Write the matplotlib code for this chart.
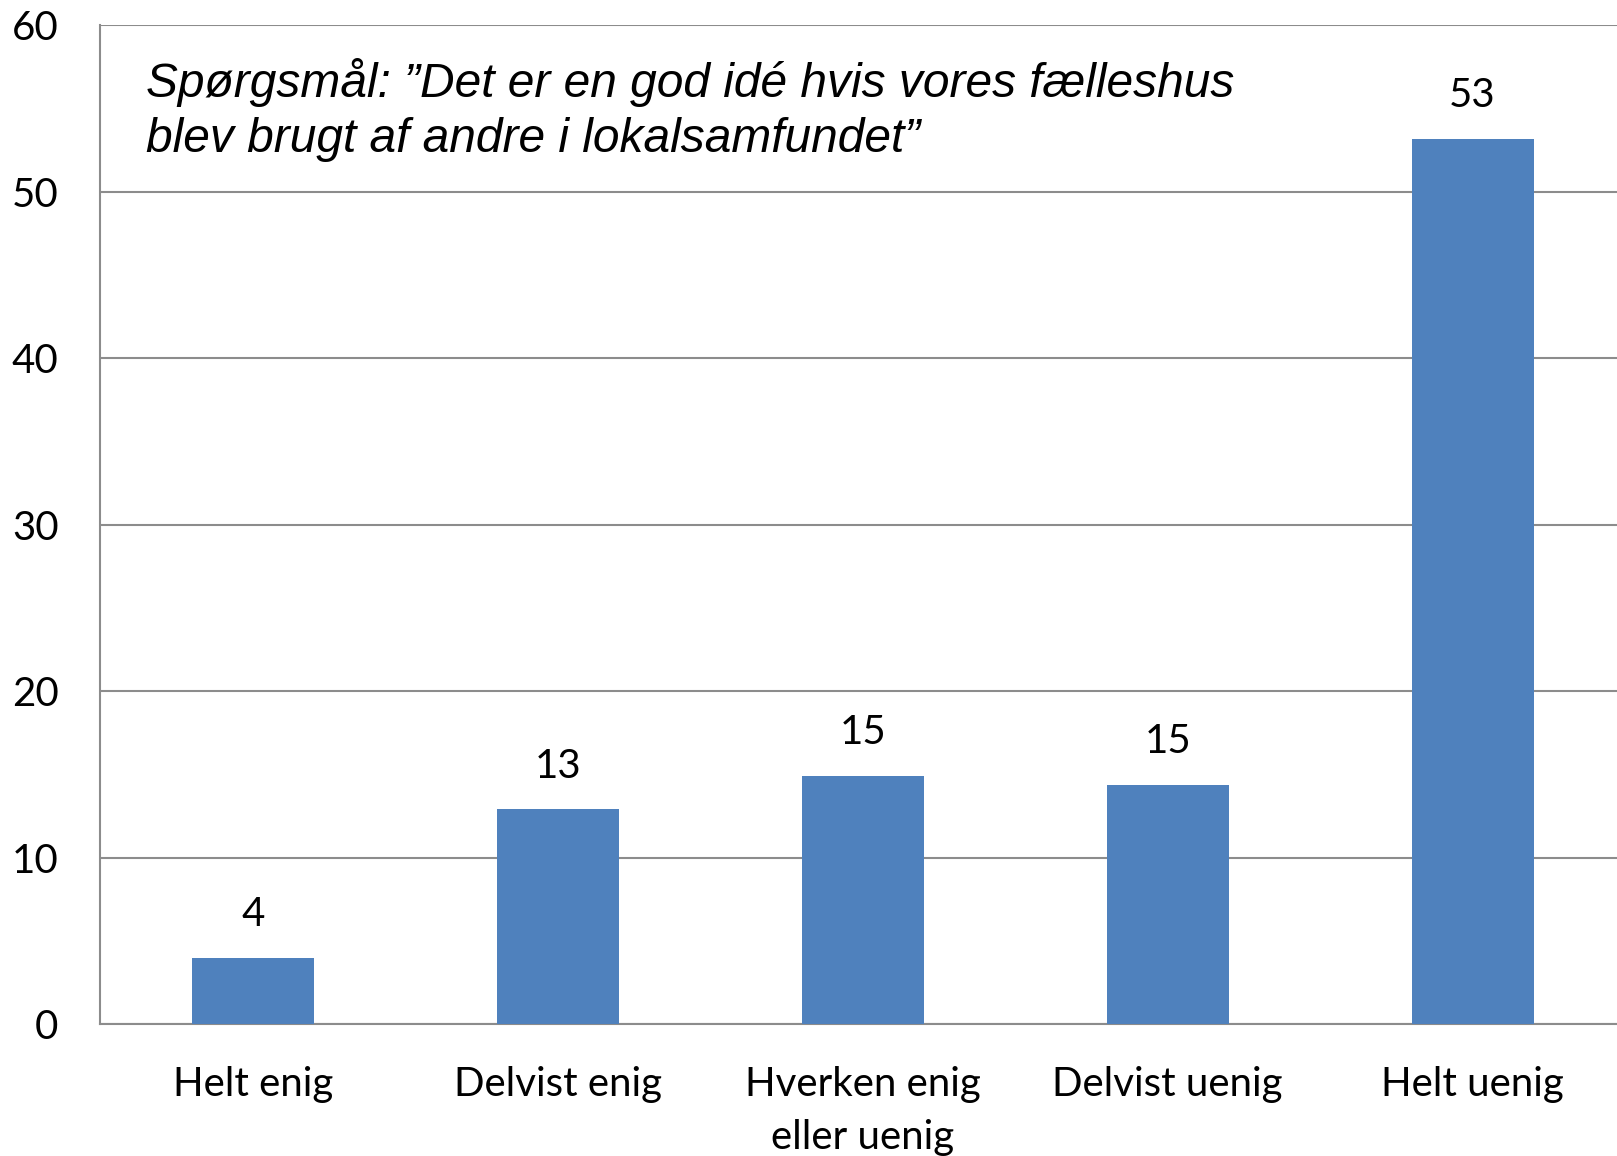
import numpy as np
import matplotlib.pyplot as plt

# survey answers and share of respondents (bar heights)
categories = ["Helt enig", "Delvist enig", "Hverken enig\neller uenig",
              "Delvist uenig", "Helt uenig"]
values = [4.0, 12.9, 14.9, 14.4, 53.2]
value_labels = ["4", "13", "15", "15", "53"]
y_ticks = [0, 10, 20, 30, 40, 50, 60]

title = "Spørgsmål: \u201dDet er en god idé hvis vores fælleshus\nblev brugt af andre i lokalsamfundet\u201d"

plt.rcParams['font.family'] = ['Lato', 'DejaVu Sans']

fig = plt.figure(figsize=(16.17, 11.56), dpi=100)
ax = fig.add_axes([0.062, 0.114, 0.943, 0.864])

x = np.arange(len(categories))
ax.bar(x, values, width=0.4, color='#4F81BD', zorder=3)

for xi, v, lab in zip(x, values, value_labels):
    ax.text(xi, v + 1.5, lab, ha='center', va='bottom', fontsize=29, color='black')

ax.set_xlim(-0.5, 4.5)
ax.set_ylim(0, 60)
ax.set_yticks(y_ticks)
ax.set_xticks(x)
ax.set_xticklabels(categories, fontsize=29, linespacing=1.55)
ax.tick_params(axis='y', labelsize=29, length=0, pad=30)
ax.tick_params(axis='x', length=0, pad=30)

ax.grid(axis='y', color='#8c8c8c', linewidth=1.5, zorder=0)
for side in ['top', 'right']:
    ax.spines[side].set_visible(False)
for side in ['left', 'bottom']:
    ax.spines[side].set_color('#8c8c8c')
    ax.spines[side].set_linewidth(1.5)

ax.text(0.03, 0.967, title, transform=ax.transAxes, ha='left', va='top',
        fontsize=34.5, style='italic', family='Liberation Sans', linespacing=1.27)

fig.savefig('out.png', dpi=100)
